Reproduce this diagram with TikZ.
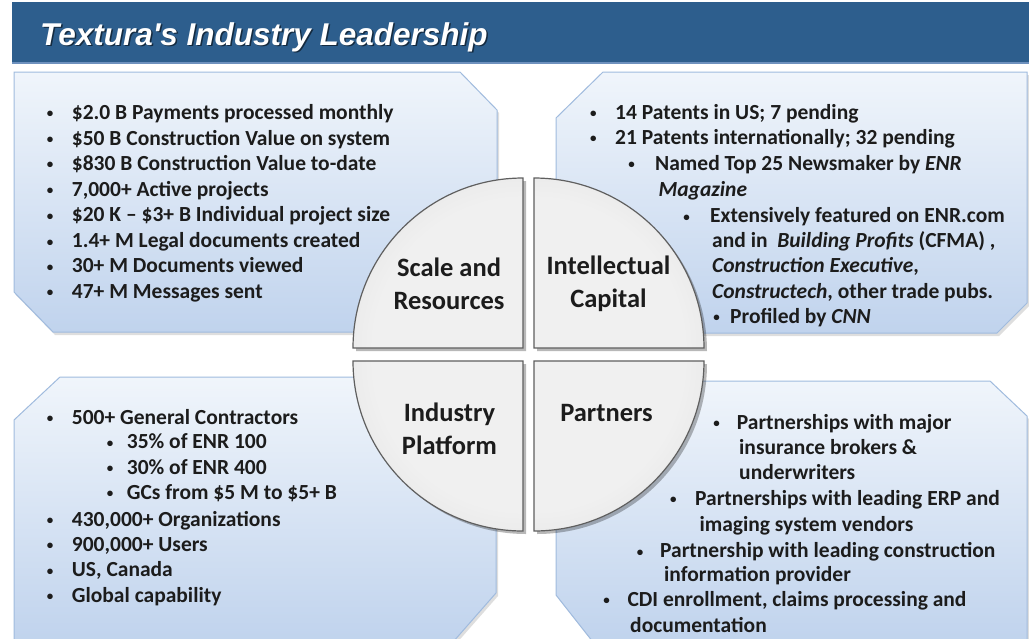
\documentclass[tikz,border=0pt]{standalone}
\usepackage{fontspec}
\setmainfont{Carlito}
\newfontfamily\titlefont{Liberation Sans}
\definecolor{barblue}{RGB}{45,94,141}
\definecolor{barline}{RGB}{110,145,190}
\definecolor{pnltop}{RGB}{240,245,251}
\definecolor{pnlbot}{RGB}{192,211,237}
\definecolor{pnledge}{RGB}{160,187,222}
\definecolor{qlight}{RGB}{240,240,240}
\definecolor{qmid}{RGB}{218,218,218}
\definecolor{qdark}{RGB}{178,178,178}
\definecolor{qedge}{RGB}{95,95,95}
\definecolor{txt}{RGB}{28,28,28}
\pgfdeclareradialshading{quadsh}{\pgfpoint{0bp}{0bp}}{color(0bp)=(qlight); color(22bp)=(qlight); color(38bp)=(qmid); color(50bp)=(qdark)}
\tikzset{
  panel/.style={draw=pnledge, line width=1pt, top color=pnltop, bottom color=pnlbot},
  pshadow/.style={fill=black, opacity=0.13},
  quad/.style={draw=qedge, line width=1.2pt},
  qshadow/.style={fill=black, opacity=0.28},
  ln/.style={anchor=base west, inner sep=0pt, text=txt, font=\fontsize{21.5}{25}\selectfont\bfseries},
  bul/.style={anchor=base, inner sep=0pt, yshift=1.5pt, text=txt, font=\fontsize{13}{14}\selectfont\bfseries},
  qlabel/.style={align=center, inner sep=0pt, text=txt, font=\fontsize{26.5}{33}\selectfont\bfseries},
}
\begin{document}
\begin{tikzpicture}[x=1pt,y=-1pt]
\useasboundingbox (0,0) rectangle (1029,638);
\fill[white] (0,0) rectangle (1029,638);
% title bar
\fill[barblue] (12,2) rectangle (1031,63);
\draw[barline, line width=1.2pt] (12,63) -- (1031,63);
\node[anchor=base west, inner sep=0pt, text=black, opacity=0.55, font=\fontsize{31.5}{36}\selectfont\titlefont\bfseries\itshape] (titleshadow) at (41.5,46.5) {Textura's Industry Leadership};
\node[anchor=base west, inner sep=0pt, text=white, font=\fontsize{31.5}{36}\selectfont\titlefont\bfseries\itshape] (title) at (40,45) {Textura's Industry Leadership};
% panel shadows
\begin{scope}[shift={(2,3)}]
\fill[pshadow] (14,72) -- (460,72) -- (497,110) -- (497,332) -- (53,332) -- (14,292) -- cycle;
\fill[pshadow] (603,72) -- (1027,72) -- (1027,303) -- (997,333) -- (556,333) -- (556,118) -- cycle;
\fill[pshadow] (60,377) -- (496,377) -- (496,593) -- (453,642) -- (14,642) -- (14,420) -- cycle;
\fill[pshadow] (556,381) -- (990,381) -- (1027,416) -- (1027,642) -- (593,642) -- (556,595) -- cycle;
\end{scope}
% panels
\path[panel] (14,72) -- (460,72) -- (497,110) -- (497,332) -- (53,332) -- (14,292) -- cycle;
\path[panel] (603,72) -- (1027,72) -- (1027,303) -- (997,333) -- (556,333) -- (556,118) -- cycle;
\path[panel] (60,377) -- (496,377) -- (496,593) -- (453,642) -- (14,642) -- (14,420) -- cycle;
\path[panel] (556,381) -- (990,381) -- (1027,416) -- (1027,642) -- (593,642) -- (556,595) -- cycle;
% quadrant shadows
\begin{scope}[shift={(3,3)}]
\fill[qshadow] (523,348) -- (353,348) arc[start angle=180, end angle=270, radius=170] -- cycle;
\fill[qshadow] (534,348) -- (534,178) arc[start angle=270, end angle=360, radius=170] -- cycle;
\fill[qshadow] (523,361) -- (523,531) arc[start angle=90, end angle=180, radius=170] -- cycle;
\fill[qshadow] (534,361) -- (704,361) arc[start angle=0, end angle=90, radius=170] -- cycle;
\end{scope}
% quadrants
\begin{scope}
\clip (523,348) -- (353,348) arc[start angle=180, end angle=270, radius=170] -- cycle;
\shade[shading=quadsh] (523,348) circle[radius=170pt];
\end{scope}
\draw[quad] (523,348) -- (353,348) arc[start angle=180, end angle=270, radius=170] -- cycle;
\begin{scope}
\clip (534,348) -- (534,178) arc[start angle=270, end angle=360, radius=170] -- cycle;
\shade[shading=quadsh] (534,348) circle[radius=170pt];
\end{scope}
\draw[quad] (534,348) -- (534,178) arc[start angle=270, end angle=360, radius=170] -- cycle;
\begin{scope}
\clip (523,361) -- (523,531) arc[start angle=90, end angle=180, radius=170] -- cycle;
\shade[shading=quadsh] (523,361) circle[radius=170pt];
\end{scope}
\draw[quad] (523,361) -- (523,531) arc[start angle=90, end angle=180, radius=170] -- cycle;
\begin{scope}
\clip (534,361) -- (704,361) arc[start angle=0, end angle=90, radius=170] -- cycle;
\shade[shading=quadsh] (534,361) circle[radius=170pt];
\end{scope}
\draw[quad] (534,361) -- (704,361) arc[start angle=0, end angle=90, radius=170] -- cycle;
% quadrant labels
\node[qlabel] (qscale) at (449,283.5) {Scale and\\Resources};
\node[qlabel] (qintel) at (608.5,283.5) {Intellectual\\Capital};
\node[qlabel] (qindus) at (449.5,429) {Industry\\Platform};
\node[qlabel] (qpart) at (606.5,413) {Partners};
% top-left text
\foreach \i/\y/\t in {1/119/{\$2.0 B Payments processed monthly},
  2/145/{\$50 B Construction Value on system},
  3/170/{\$830 B Construction Value to-date},
  4/196/{7,000+ Active projects},
  5/221.5/{\$20 K – \$3+ B Individual project size},
  6/247.5/{1.4+ M Legal documents created},
  7/272.5/{30+ M Documents viewed},
  8/298/{47+ M Messages sent}}{
  \node[bul] (tlb\i) at (50,\y) {•};
  \node[ln] (tlt\i) at (71.7,\y) {\t};
}
% top-right text
\node[bul] (trb1) at (593.3,119.3) {•};
\node[ln] (trt1) at (615,119.3) {14 Patents in US; 7 pending};
\node[bul] (trb2) at (593.3,144.3) {•};
\node[ln] (trt2) at (615,144.3) {21 Patents internationally; 32 pending};
\node[bul] (trb3) at (631.7,170) {•};
\node[ln] (trt3) at (655,170) {Named Top 25 Newsmaker by \textit{ENR}};
\node[ln] (trt3b) at (658.3,196) {\textit{Magazine}};
\node[bul] (trb4) at (686.7,222.7) {•};
\node[ln] (trt4) at (710,222.7) {Extensively featured on ENR.com};
\node[ln] (trt4b) at (712,247.7) {and in\ \ \textit{Building Profits} (CFMA) ,};
\node[ln] (trt4c) at (712,272.7) {\textit{Construction Executive},};
\node[ln] (trt4d) at (712,298.3) {\textit{Constructech}, other trade pubs.};
\node[bul] (trb5) at (716.7,323.3) {•};
\node[ln] (trt5) at (730,323.3) {Profiled by \textit{CNN}};
% bottom-left text
\node[bul] (blb1) at (50,424.3) {•};
\node[ln] (blt1) at (71.7,424.3) {500+ General Contractors};
\node[bul] (blb2) at (110,448.7) {•};
\node[ln] (blt2) at (126.7,448.7) {35\% of ENR 100};
\node[bul] (blb3) at (110,474.3) {•};
\node[ln] (blt3) at (126.7,474.3) {30\% of ENR 400};
\node[bul] (blb4) at (110,499.3) {•};
\node[ln] (blt4) at (126.7,499.3) {GCs from \$5 M to \$5+ B};
\node[bul] (blb5) at (50,526) {•};
\node[ln] (blt5) at (71.7,526) {430,000+ Organizations};
\node[bul] (blb6) at (50,551) {•};
\node[ln] (blt6) at (71.7,551) {900,000+ Users};
\node[bul] (blb7) at (50,576.7) {•};
\node[ln] (blt7) at (71.7,576.7) {US, Canada};
\node[bul] (blb8) at (50,602) {•};
\node[ln] (blt8) at (71.7,602) {Global capability};
% bottom-right text
\node[bul] (brb1) at (716.7,429.3) {•};
\node[ln] (brt1) at (736.7,429.3) {Partnerships with major};
\node[ln] (brt1b) at (739,454.3) {insurance brokers \&};
\node[ln] (brt1c) at (739,479.3) {underwriters};
\node[bul] (brb2) at (673.3,505.3) {•};
\node[ln] (brt2) at (695,505.3) {Partnerships with leading ERP and};
\node[ln] (brt2b) at (699.3,531) {imaging system vendors};
\node[bul] (brb3) at (640,557.7) {•};
\node[ln] (brt3) at (660,557.7) {Partnership with leading construction};
\node[ln] (brt3b) at (664,581) {information provider};
\node[bul] (brb4) at (606.7,606) {•};
\node[ln] (brt4) at (627.3,606) {CDI enrollment, claims processing and};
\node[ln] (brt4b) at (630,632.7) {documentation};
\end{tikzpicture}
\end{document}
